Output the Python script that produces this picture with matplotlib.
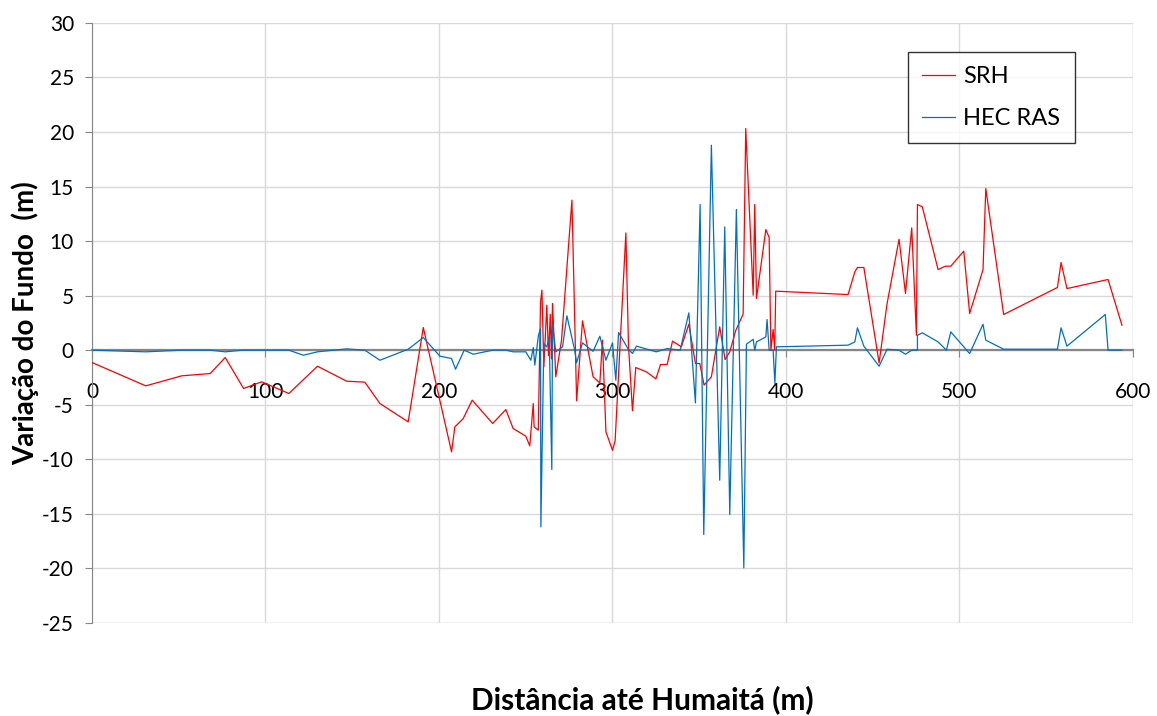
import matplotlib.pyplot as plt
import numpy as np

plt.rcParams['font.family'] = ['Lato', 'DejaVu Sans']
plt.rcParams['axes.unicode_minus'] = False

# Distância (m) e variação do fundo (m) - SRH
srh_x = [0, 31, 51.7, 68.2, 76.8, 87.4, 97.8, 113.5, 130, 146.8, 157.3, 166, 182.3, 191,
         207.3, 209.2, 214, 219.2, 231, 238.6, 242.8, 250.1, 252.4, 254.4, 254.9, 257.3,
         258.6, 259.4, 260.5, 261.3, 262.2, 263.2, 264.2, 264.9, 265.5, 267.4, 270.7, 276.7,
         279.4, 282.8, 288.9, 292.8, 294.3, 296.3, 300.1, 301.6, 307.8, 309.3, 311.6, 313.5,
         319.7, 325.1, 327.8, 331.6, 334.7, 339.8, 344.1, 347.9, 350.4, 352.9, 357.1, 361.9,
         365, 367.7, 371.2, 375.4, 376.9, 381.2, 382.1, 383.1, 388.5, 390.4, 391.4, 392.7,
         393.6, 394.2, 435.9, 439.8, 441.3, 445, 453.8, 458.4, 465.3, 469, 472.6, 475.3,
         475.9, 478.7, 487.8, 492, 495.1, 502.6, 506, 513.7, 515.3, 525.6, 556.6, 558.7,
         562.1, 585.8, 593.8]
srh_y = [-1.13, -3.27, -2.35, -2.14, -0.67, -3.51, -2.9, -3.97, -1.47, -2.84, -2.93, -4.89,
         -6.57, 2.08, -9.32, -7.03, -6.27, -4.58, -6.72, -5.44, -7.18, -7.88, -8.77, -4.89,
         -7.03, -7.33, 4.43, 5.5, -1.53, 1.07, 4.12, -0.5, 3.3, -0.8, 4.28, -2.44, 0.92, 13.75,
         -4.64, 2.69, -2.44, -3.0, 0.92, -7.49, -9.17, -8.31, 10.75, 0.46, -5.56, -1.59,
         -1.99, -2.63, -1.31, -1.31, 0.83, 0.31, 2.38, -1.22, -1.22, -3.2, -2.44, 2.14,
         -0.86, -0.15, 1.83, 3.3, 20.32, 5.04, 13.35, 4.74, 11.06, 10.33, 0, 1.9,
         0, 5.41, 5.1, 7.18, 7.58, 7.58, -1.16, 4.28, 10.17, 5.2, 11.21, 1.37,
         13.35, 13.14, 7.39, 7.7, 7.7, 9.08, 3.36, 7.39, 14.82, 3.27, 5.75, 8.04,
         5.65, 6.48, 2.29]

# Distância (m) e variação do fundo (m) - HEC RAS
hec_x = [0, 31, 51.7, 68, 76.8, 87, 113.5, 121.8, 130, 146.8, 157.3, 166, 182.3, 191,
         200.6, 207.3, 209.6, 214.6, 219.8, 231, 238.6, 242.8, 250.1, 253, 254.4, 255.3,
         257.4, 258.6, 258.8, 260.5, 262.2, 263.6, 265.1, 265.5, 267.4, 271.3, 273.8, 278.3,
         279.4, 282.8, 288.9, 292.8, 296.3, 300.1, 302, 303.6, 309.3, 311.6, 313.9, 325.3,
         331.6, 339.1, 344.1, 347.9, 350.6, 352.7, 357.1, 361.9, 364.8, 367.7, 371.5, 375.8,
         377.3, 381.2, 382.1, 383.1, 388.5, 389.2, 390.4, 392.7, 393.7, 394.6, 435.9, 439.8,
         441.3, 445, 453.8, 458.4, 465.3, 469, 472.6, 475.9, 475.9, 478.7, 487.8, 492.6,
         495.1, 506, 513.7, 515.3, 525.6, 556.6, 558.7, 562.1, 584.2, 585.8, 593.8]
hec_y = [0, -0.15, 0, 0, -0.15, 0, 0, -0.46, -0.15, 0.12, 0, -0.92, 0.09, 1.16,
         -0.55, -0.76, -1.74, 0, -0.37, 0, 0, -0.15, -0.15, -0.92, 0.24, -1.37,
         1.37, 1.98, -16.2, 0.6, 0.3, 1.22, -10.94, 2.38, -0.15, 0.31, 3.15, 0,
         -1.16, 0.67, -0.1, 1.28, -0.92, 0.67, -2.75, 1.62, 0.06, -0.3, 0.37, -0.15,
         0.15, 0, 3.42, -4.83, 13.35, -16.9, 18.79, -11.92, 11.3, -15.06, 12.9, -19.95,
         0.55, 1.0, 0, 0.76, 1.22, 2.81, 0, 0, -3.05, 0.31, 0.46, 0.76,
         2.05, 0.37, -1.47, 0.09, 0, -0.37, 0, 0, 1.37, 1.59, 0.76, 0,
         1.68, -0.31, 2.38, 0.92, 0.09, 0.09, 2.05, 0.37, 3.27, 0, 0]

fig = plt.figure(figsize=(11.57, 7.16), dpi=100)
ax = fig.add_axes([0.0795, 0.130, 0.8995, 0.838])

ax.plot(srh_x, srh_y, color='#ff0000', lw=0.9, label='SRH', zorder=3)
ax.plot(hec_x, hec_y, color='#0070c0', lw=0.9, label='HEC RAS', zorder=3)

ax.set_xlim(0, 600)
ax.set_ylim(-25, 30)
ax.set_xticks(np.arange(0, 601, 100))
ax.set_yticks(np.arange(-25, 31, 5))
ax.grid(True, color='#d9d9d9', lw=1.0)
ax.set_axisbelow(True)

# eixo horizontal passando pelo zero, como no Excel
ax.spines['bottom'].set_position(('data', 0))
ax.spines['bottom'].set_color('#868686')
ax.spines['bottom'].set_linewidth(1.6)
ax.spines['bottom'].set_zorder(2)
ax.spines['left'].set_color('#868686')
ax.spines['top'].set_visible(False)
ax.spines['right'].set_visible(False)
ax.axhline(-25, color='#d9d9d9', lw=1.0, zorder=0)
ax.axvline(600, color='#d9d9d9', lw=1.0, zorder=0)

ax.tick_params(axis='both', labelsize=15, color='#868686', length=5)
ax.tick_params(axis='x', pad=18)
ax.tick_params(axis='y', pad=8)

ax.set_ylabel('Variação do Fundo  (m)', fontsize=20, fontweight='bold', labelpad=2)
fig.text(0.555, 0.002, 'Distância até Humaitá (m)', fontsize=21.5, fontweight='bold',
         ha='center', va='bottom')

leg = ax.legend(loc='upper left', bbox_to_anchor=(0.784, 0.952), fontsize=17,
                frameon=True, fancybox=False, handlelength=1.4, labelspacing=0.9,
                borderpad=0.6, handletextpad=0.35, borderaxespad=0)
leg.get_frame().set_edgecolor('black')
leg.get_frame().set_linewidth(1.0)

plt.savefig('out.png', dpi=100)
